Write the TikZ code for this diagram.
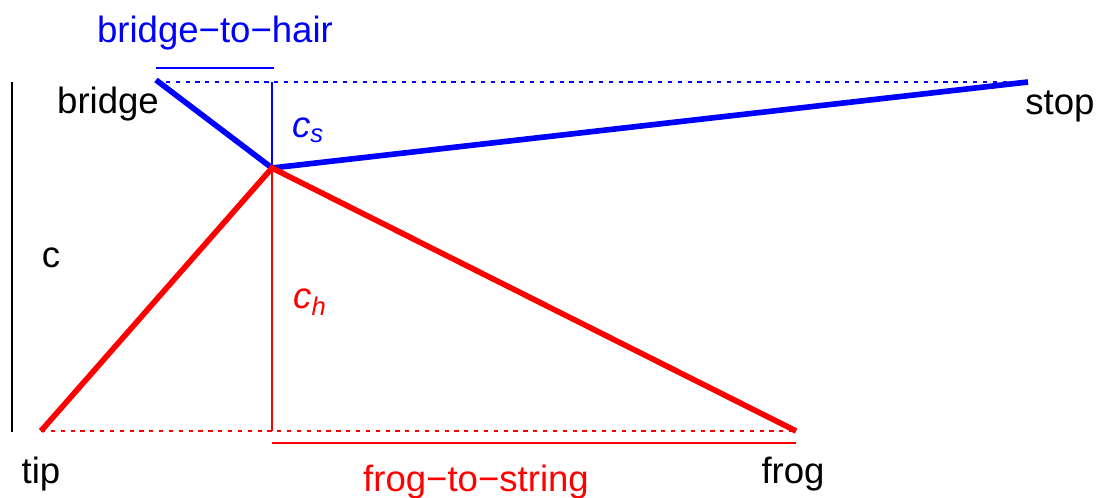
\documentclass[tikz,border=0pt]{standalone}
\usepackage{fontspec}
\setmainfont{Liberation Sans}
\begin{document}
\begin{tikzpicture}[x=0.025cm, y=-0.025cm,
    every node/.style={font=\fontsize{26}{30}\selectfont},
    bow/.style={line width=4pt},
    thin line/.style={line width=1.7pt},
    dot line/.style={line width=2pt, dash pattern=on 3pt off 4pt}]
  \useasboundingbox (0,0) rectangle (1096,498);
  % points of the bow
  \coordinate (bridge) at (156,80);
  \coordinate (hair) at (272,168);
  \coordinate (stop) at (1028,82);
  \coordinate (tip) at (41,431);
  \coordinate (frog) at (796,431);
  \coordinate (top) at (272,82);
  \coordinate (base) at (272,431);
  % blue part
  \draw[dot line, blue] (bridge |- stop) -- (stop);
  \draw[thin line, blue] (top) -- (hair);
  \draw[bow, blue] (bridge) -- (hair) -- (stop);
  \draw[thin line, blue] (156,68) coordinate (bh1) -- (274,68) coordinate (bh2);
  \node[blue] (bhlabel) at (215,33) {bridge−to−hair};
  \node[blue] (cs) at (308,130) {\itshape c\textsubscript{s}};
  % red part
  \draw[dot line, red] (tip) -- (frog);
  \draw[thin line, red] (hair) -- (base);
  \draw[bow, red] (tip) -- (hair) -- (frog);
  \draw[thin line, red] (272,443) coordinate (fs1) -- (796,443) coordinate (fs2);
  \node[red] (fslabel) at (476,482) {frog−to−string};
  \node[red] (ch) at (310,302) {\itshape c\textsubscript{h}};
  % height
  \draw[thin line] (12,82) coordinate (c1) -- (12,432) coordinate (c2);
  \node (clabel) at (51,258) {c};
  % names
  \node (bridgelabel) at (108,104) {bridge};
  \node (stoplabel) at (1060,106) {stop};
  \node (tiplabel) at (41,474) {tip};
  \node (froglabel) at (793,474) {frog};
\end{tikzpicture}
\end{document}
